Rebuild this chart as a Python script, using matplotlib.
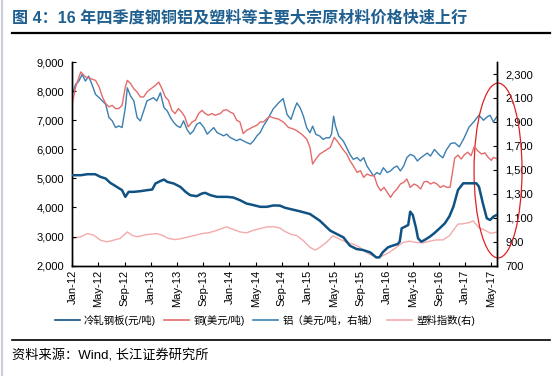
import matplotlib
matplotlib.use("Agg")
import matplotlib.pyplot as plt
from matplotlib.patches import Ellipse
from matplotlib.lines import Line2D

plt.rcParams['font.family'] = ['Liberation Sans', 'Noto Sans CJK SC', 'DejaVu Sans']

# x positions are months since Jan-2012
tick_labels = ["Jan-12", "May-12", "Sep-12", "Jan-13", "May-13", "Sep-13", "Jan-14", "May-14",
               "Sep-14", "Jan-15", "May-15", "Sep-15", "Jan-16", "May-16", "Sep-16", "Jan-17", "May-17"]
tick_months = [0, 4, 8, 12, 16, 20, 24, 28, 32, 36, 40, 44, 48, 52, 56, 60, 64]

# 冷轧钢板 (元/吨), left axis
steel_m = [0, 1.3, 2.3, 3.5, 4.3, 5.1, 5.8, 6.8, 7.6, 8.1, 8.6, 9.4, 10.4, 11.4, 12.2, 12.7, 13.5, 14.0,
           14.5, 15.5, 16.5, 17.3, 18.0, 19.0, 19.8, 20.3, 21.1, 22.1, 23.6, 24.6, 25.6, 26.6, 27.7, 28.7,
           29.7, 30.7, 31.7, 32.5, 33.3, 34.8, 36.3, 37.8, 39.4, 40.4, 41.4, 42.4, 43.4, 44.4, 45.5, 46.4,
           46.9, 47.4, 48.2, 48.9, 49.7, 50.0, 50.3, 50.8, 51.3, 51.6, 52.0, 52.5, 52.8, 53.3, 53.8, 54.6,
           55.3, 56.1, 56.9, 57.6, 58.2, 58.9, 59.7, 60.7, 61.7, 62.1, 62.7, 63.3, 63.8, 64.3, 64.8]
steel_v = [5110, 5110, 5144, 5144, 5053, 4995, 4847, 4709, 4595, 4366, 4538, 4538, 4561, 4595, 4618, 4824,
           4915, 4961, 4881, 4824, 4709, 4538, 4423, 4389, 4481, 4504, 4423, 4366, 4366, 4343, 4252, 4137,
           4080, 4023, 4023, 4070, 4065, 3990, 3947, 3867, 3775, 3546, 3203, 3088, 2974, 2687, 2573, 2538,
           2458, 2286, 2286, 2458, 2630, 2687, 2745, 2825, 3285, 3340, 3400, 3856, 3742, 3285, 2940, 2825,
           2882, 2997, 3120, 3285, 3456, 3700, 4027, 4601, 4832, 4832, 4832, 4718, 4144, 3629, 3570, 3685, 3742]

# 铜 (美元/吨), left axis
copper_m = [0, 0.5, 1.3, 2.0, 2.8, 3.55, 4.1, 4.6, 5.1, 5.6, 6.1, 6.6, 7.1, 7.6, 8.1, 8.4, 8.9, 9.4, 9.9,
            10.4, 10.9, 11.4, 12.0, 12.7, 13.2, 13.7, 14.2, 14.7, 15.2, 15.7, 16.2, 16.7, 17.2, 17.7, 18.3,
            18.8, 19.3, 19.8, 20.3, 20.8, 21.3, 21.8, 22.6, 23.1, 23.6, 24.1, 24.6, 25.1, 25.6, 26.1, 26.6,
            27.1, 27.6, 28.2, 28.7, 29.2, 29.7, 30.2, 30.7, 31.5, 32.3, 33.0, 33.8, 34.3, 35.0, 35.8, 36.3,
            36.7, 37.2, 37.8, 38.6, 39.4, 40.0, 40.6, 41.3, 41.9, 42.4, 42.9, 43.5, 44.0, 44.5, 45.0, 45.6,
            46.1, 46.6, 47.1, 47.6, 48.1, 48.6, 49.1, 49.6, 50.1, 50.6, 51.1, 51.6, 52.2, 52.7, 53.2, 53.7,
            54.2, 54.7, 55.2, 55.7, 56.2, 56.7, 57.2, 57.7, 58.1, 58.4, 58.9, 59.4, 59.9, 60.4, 60.9, 61.4,
            61.9, 62.5, 63.0, 63.5, 64.0, 64.3, 64.8]
copper_v = [7570, 8140, 8660, 8490, 8430, 8370, 8140, 7800, 7570, 7460, 7510, 7400, 7400, 7510, 8140, 8370,
            8260, 8080, 7970, 7800, 7800, 7970, 8080, 8200, 8310, 8080, 7800, 7680, 7340, 7230, 7400, 7280,
            7110, 6770, 6940, 7000, 7230, 7340, 7230, 7170, 7230, 7170, 7230, 7340, 7360, 7280, 7230, 7000,
            6940, 6540, 6650, 6710, 6770, 6830, 6940, 6940, 7050, 7130, 7080, 7040, 6925, 6754, 6696, 6639,
            6525, 6353, 6066, 5494, 5666, 5837, 5952, 6066, 6410, 6238, 6009, 5837, 5608, 5436, 5207, 5265,
            5035, 5150, 5093, 5093, 4750, 4577, 4692, 4520, 4348, 4520, 4635, 4806, 4864, 4978, 4692, 4806,
            4750, 4635, 4880, 4900, 4806, 4864, 4806, 4692, 4750, 4692, 4700, 5265, 5700, 5800, 5666, 5820,
            5900, 5780, 6100, 5952, 5837, 5880, 5723, 5620, 5723, 5680]

# 铝 (美元/吨, 右轴)
alu_m = [0, 0.5, 1.0, 1.5, 2.0, 2.5, 3.0, 3.55, 4.1, 4.6, 5.1, 5.6, 6.1, 6.6, 7.1, 7.6, 8.1, 8.4, 8.9, 9.4,
         9.9, 10.4, 10.9, 11.4, 11.9, 12.4, 12.9, 13.45, 14.0, 14.5, 15.0, 15.5, 16.0, 16.5, 17.0, 17.5,
         18.0, 18.5, 19.0, 19.5, 20.1, 20.6, 21.1, 21.6, 22.1, 22.6, 23.1, 23.6, 24.1, 24.6, 25.1, 25.6,
         26.1, 26.6, 27.2, 27.7, 28.2, 28.7, 29.2, 29.7, 30.2, 30.7, 31.2, 31.5, 32.2, 32.8, 33.4, 33.9,
         34.3, 34.8, 35.3, 35.8, 36.3, 36.7, 37.2, 37.8, 38.3, 38.8, 39.3, 39.6, 39.9, 40.2, 40.7, 41.4,
         41.9, 42.4, 42.9, 43.5, 44.0, 44.5, 45.0, 45.5, 46.0, 46.5, 47.0, 47.5, 48.1, 48.6, 49.1, 49.6,
         50.1, 50.6, 51.1, 51.6, 52.2, 52.7, 53.2, 53.7, 54.2, 54.7, 55.3, 56.1, 56.6, 57.1, 57.8, 58.4,
         59.1, 59.8, 60.6, 61.3, 62.1, 62.8, 63.3, 63.8, 64.3, 64.8]
alu_v = [2130, 2213, 2241, 2296, 2241, 2282, 2213, 2130, 2102, 2075, 2047, 1936, 1909, 1853, 1867, 1853,
         2020, 2185, 2116, 2075, 1936, 1909, 1992, 2075, 2089, 2102, 2075, 2144, 2020, 1992, 1936, 1895,
         1867, 1853, 1909, 1839, 1798, 1826, 1881, 1895, 1853, 1798, 1826, 1853, 1812, 1798, 1784, 1798,
         1770, 1757, 1743, 1757, 1743, 1729, 1715, 1743, 1784, 1812, 1867, 1909, 1960, 2010, 2040, 2059,
         2095, 1962, 1921, 2004, 2059, 2017, 1948, 1851, 1810, 1865, 1796, 1782, 1754, 1768, 1768, 1800,
         1948, 1865, 1782, 1740, 1685, 1629, 1588, 1602, 1574, 1602, 1532, 1491, 1449, 1477, 1463, 1518,
         1477, 1491, 1518, 1532, 1491, 1532, 1602, 1629, 1615, 1574, 1600, 1620, 1640, 1615, 1670, 1622,
         1600, 1664, 1720, 1726, 1692, 1762, 1858, 1900, 1956, 1914, 1940, 1956, 1900, 1942]

# 塑料指数 (右轴)
plastic_m = [0, 1.3, 2.3, 3.3, 4.3, 5.3, 6.3, 7.3, 8.4, 9.1, 9.9, 10.9, 11.9, 12.9, 13.7, 14.7, 15.7, 16.7,
             17.8, 18.8, 19.8, 20.8, 21.8, 22.8, 23.6, 24.6, 25.6, 26.6, 27.7, 28.7, 29.7, 30.7, 31.7, 32.3,
             33.3, 34.3, 35.3, 36.3, 37.1, 37.8, 38.8, 39.8, 40.8, 41.9, 42.9, 43.9, 44.9, 45.9, 46.6, 47.4,
             48.4, 49.5, 50.5, 51.5, 52.5, 53.6, 54.6, 55.6, 56.6, 57.6, 58.2, 58.9, 59.7, 60.7, 61.2, 62.2,
             62.7, 63.9, 64.8]
plastic_v = [927, 941, 968, 954, 913, 899, 913, 927, 982, 954, 941, 954, 963, 968, 954, 927, 918, 927,
             941, 954, 968, 974, 990, 1010, 1024, 1002, 982, 974, 996, 1010, 1024, 1025, 1015, 991,
             964, 950, 908, 853, 830, 853, 894, 950, 922, 894, 880, 853, 811, 783, 764, 783,
             811, 853, 894, 905, 894, 890, 905, 915, 915, 950, 997, 1047, 1050, 1061, 1075, 1010,
             1005, 970, 980]

c_steel = "#0f5283"
c_copper = "#e46b6b"
c_alu = "#3b7fb0"
c_plastic = "#f4aaaa"

fig = plt.figure(figsize=(5.54, 3.76), dpi=100)
ax = fig.add_axes([0.1305, 0.2934, 0.7665, 0.5416])
ax2 = ax.twinx()

ax2.plot(plastic_m, plastic_v, color=c_plastic, lw=1.0, zorder=1)
ax2.plot(alu_m, alu_v, color=c_alu, lw=1.0, zorder=2)
ax.plot(copper_m, copper_v, color=c_copper, lw=1.0, zorder=2)
ax.plot(steel_m, steel_v, color=c_steel, lw=1.8, zorder=3)
ax.set_zorder(ax2.get_zorder() + 1)
ax.patch.set_visible(False)

ax.set_xlim(0, 64.85)
ax.set_ylim(2000, 9000)
ax2.set_ylim(700, 2400)
ax.set_yticks(range(2000, 9001, 1000))
ax.set_yticklabels([f"{v:,}" for v in range(2000, 9001, 1000)])
ax2.set_yticks(range(700, 2301, 200))
ax2.set_yticklabels([f"{v:,}" for v in range(700, 2301, 200)])
ax.set_xticks(tick_months)
ax.set_xticklabels(tick_labels, rotation=90)

for a in (ax, ax2):
    a.spines['top'].set_visible(False)
    for s in a.spines.values():
        s.set_linewidth(1.0)
        s.set_color("black")
    a.tick_params(direction='in', length=3, width=0.8, labelsize=8, colors="black", pad=3)
ax.tick_params(axis='y', pad=6)
ax2.tick_params(axis='y', pad=6)

handles = [Line2D([], [], color=c_steel, lw=1.2), Line2D([], [], color=c_copper, lw=1.2),
           Line2D([], [], color=c_alu, lw=1.2), Line2D([], [], color=c_plastic, lw=1.2)]
labels = ["冷轧钢板(元/吨)", "铜(美元/吨)", "铝（美元/吨，右轴）", "塑料指数(右)"]
fig.legend(handles, labels, loc='center', bbox_to_anchor=(0.478, 0.149), ncol=4, frameon=False,
           fontsize=7.5, handlelength=2.4, columnspacing=0.8, handletextpad=0.4)

fig.text(0.022, 0.955, "图 4：16 年四季度钢铜铝及塑料等主要大宗原材料价格快速上行", fontsize=11.6,
         color="#1f5f8f", fontweight='bold', va='center', ha='left')
fig.add_artist(Line2D([0.022, 0.993], [0.913, 0.913], color="black", lw=1.6, transform=fig.transFigure))
fig.add_artist(Line2D([0.022, 0.993], [0.096, 0.096], color="black", lw=1.2, transform=fig.transFigure))
fig.add_artist(Line2D([0.003, 0.003], [0.0, 1.0], color="#c9ced8", lw=1.5, transform=fig.transFigure))
fig.text(0.022, 0.053, "资料来源：Wind, 长江证券研究所", fontsize=9.5, color="black", va='center', ha='left')

ell = Ellipse((0.899, 0.5465), 0.0866, 0.465, transform=fig.transFigure, fill=False,
              edgecolor="#d22", lw=0.9, clip_on=False)
fig.add_artist(ell)

fig.savefig("out.png", dpi=100)
